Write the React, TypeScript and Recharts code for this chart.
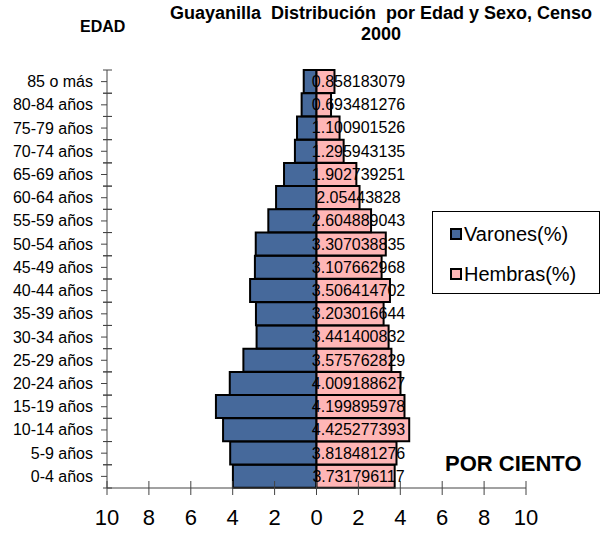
import { BarChart, Bar, XAxis, YAxis, Legend, LabelList } from "recharts";

const ageGroups = [
  "0-4 años", "5-9 años", "10-14 años", "15-19 años", "20-24 años", "25-29 años",
  "30-34 años", "35-39 años", "40-44 años", "45-49 años", "50-54 años", "55-59 años",
  "60-64 años", "65-69 años", "70-74 años", "75-79 años", "80-84 años", "85 o más",
];

// (no labels for males in the picture)
const varones = [3.99, 4.12, 4.46, 4.8, 4.14, 3.49, 2.86, 2.89, 3.17, 2.94, 2.9, 2.3, 1.93, 1.55, 1.03, 0.93, 0.71, 0.61];

const hembras = [
  3.731796117, 3.818481276, 4.425277393, 4.199895978, 4.009188627, 3.575762829,
  3.441400832, 3.203016644, 3.506414702, 3.107662968, 3.307038835, 2.604889043,
  2.05443828, 1.902739251, 1.295943135, 1.100901526, 0.693481276, 0.858183079,
];

const seriesNames = ["Varones(%)", "Hembras(%)"];

const xTicks = [-10, -8, -6, -4, -2, 0, 2, 4, 6, 8, 10];

const data = ageGroups.map((age, i) => ({ age, varones: -varones[i], hembras: hembras[i] }));

const W = 613;
const H = 533;
const TOP = 70;
const X_AXIS_H = 45;
const BAND = (H - TOP - X_AXIS_H) / ageGroups.length;
const AXIS = "#444";
const FONT = "Arial, 'Liberation Sans', sans-serif";

function AgeTick(props: any) {
  const { x, y, payload } = props;
  return (
    <g>
      <line x1={x - 6} y1={y} x2={x} y2={y} stroke={AXIS} />
      <line x1={x - 4} y1={y - BAND / 2} x2={x + 5} y2={y - BAND / 2} stroke={AXIS} />
      <line x1={x - 4} y1={y + BAND / 2} x2={x + 5} y2={y + BAND / 2} stroke={AXIS} />
      <text x={x - 14} y={y} textAnchor="end" dominantBaseline="central" fontSize={16} fill="#000" fontFamily={FONT}>
        {payload.value}
      </text>
    </g>
  );
}

function PctTick(props: any) {
  const { x, y, payload } = props;
  return (
    <g>
      <line x1={x} y1={y - 7} x2={x} y2={y + 7} stroke={AXIS} />
      <text x={x} y={y + 37} textAnchor="middle" fontSize={22} fill="#000" fontFamily={FONT}>
        {Math.abs(payload.value)}
      </text>
    </g>
  );
}

function FemaleLabel(props: any) {
  const { x, y, height, value } = props;
  return (
    <text x={x + 42} y={y + height / 2} textAnchor="middle" dominantBaseline="central" fontSize={16} fill="#000" fontFamily={FONT}>
      {String(value)}
    </text>
  );
}

function LegendBox(props: any) {
  const items = [...(props.payload || [])].sort(
    (a: any, b: any) => seriesNames.indexOf(a.value) - seriesNames.indexOf(b.value)
  );
  return (
    <div style={{ paddingTop: 2 }}>
      {items.map((it: any) => (
        <div key={it.value} style={{ height: 40, display: "flex", alignItems: "center", paddingLeft: 17 }}>
          <span style={{ width: 8, height: 8, background: it.color, border: "2px solid #000", marginRight: 2 }} />
          <span style={{ fontSize: 20, color: "#000", fontFamily: FONT }}>{it.value}</span>
        </div>
      ))}
    </div>
  );
}

export default function App() {
  return (
    <div style={{ position: "absolute", left: 0, top: 0, width: W, height: H, background: "#fff", fontFamily: FONT }}>
      <div style={{ position: "absolute", left: 80, top: 19, fontSize: 16, lineHeight: "16px", fontWeight: "bold" }}>EDAD</div>
      <div style={{ position: "absolute", left: 160, width: 442, top: 3, fontSize: 18, lineHeight: "21px", fontWeight: "bold", textAlign: "center", whiteSpace: "pre" }}>
        {"Guayanilla  Distribución  por Edad y Sexo, Censo\n2000"}
      </div>
      <div style={{ position: "absolute", left: 445, top: 453, fontSize: 22, lineHeight: "22px", fontWeight: "bold" }}>POR CIENTO</div>
      <BarChart
        width={W}
        height={H}
        data={data}
        layout="vertical"
        stackOffset="sign"
        barCategoryGap={0}
        margin={{ top: TOP, right: 87, bottom: 0, left: 0 }}
      >
        <XAxis
          type="number"
          domain={[-10, 10]}
          ticks={xTicks}
          interval={0}
          height={X_AXIS_H}
          tickSize={0}
          tickMargin={0}
          tickLine={false}
          axisLine={{ stroke: AXIS }}
          tick={<PctTick />}
        />
        <YAxis
          type="category"
          dataKey="age"
          reversed
          interval={0}
          width={107}
          tickSize={0}
          tickMargin={0}
          tickLine={false}
          axisLine={{ stroke: AXIS }}
          tick={<AgeTick />}
        />
        <Legend
          layout="vertical"
          align="center"
          verticalAlign="middle"
          content={<LegendBox />}
          wrapperStyle={{ left: 432, top: 211, width: 168, height: 83, border: "1px solid #000", boxSizing: "border-box", background: "#fff" }}
        />
        <Bar dataKey="varones" name={seriesNames[0]} stackId="p" fill="#46699b" stroke="#000" strokeWidth={2} isAnimationActive={false} />
        <Bar dataKey="hembras" name={seriesNames[1]} stackId="p" fill="#ffb6b6" stroke="#000" strokeWidth={2} isAnimationActive={false}>
          <LabelList dataKey="hembras" content={<FemaleLabel />} />
        </Bar>
      </BarChart>
    </div>
  );
}
